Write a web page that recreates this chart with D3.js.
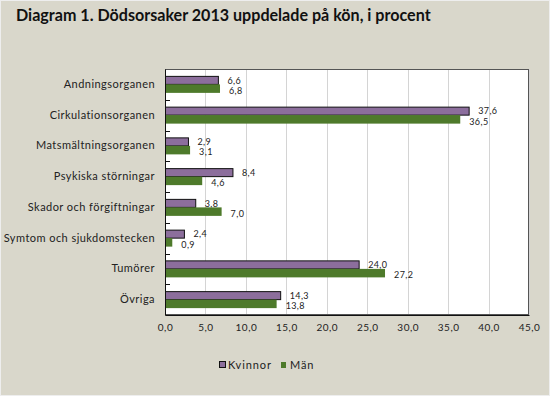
<!DOCTYPE html>
<html><head><meta charset="utf-8">
<script src="https://cdn.jsdelivr.net/npm/d3@7"></script>
<style>
body{margin:0;background:#fff;}
svg{display:block;}
text{font-family:"Lato","DejaVu Sans",sans-serif;}
</style></head>
<body>
<svg id="chart" width="550" height="396"></svg>
<script>
const categories = ["Andningsorganen","Cirkulationsorganen","Matsmältningsorganen","Psykiska störningar","Skador och förgiftningar","Symtom och sjukdomstecken","Tumörer","Övriga"];
const seriesNames = ["Kvinnor","Män"];
const kvinnor = [6.6,37.6,2.9,8.4,3.8,2.4,24.0,14.3];
const man = [6.8,36.5,3.1,4.6,7.0,0.9,27.2,13.8];
const xTicks = [0,5,10,15,20,25,30,35,40,45];
const colors = ["#8c6e9c","#4e7a2b"];

const svg = d3.select("#chart");
const W = 550, H = 396;
svg.append("rect").attr("x",0.5).attr("y",0.5).attr("width",W-1).attr("height",H-1)
  .attr("fill","#d9d7cb").attr("stroke","#eeeeee");

svg.append("text").attr("x",16).attr("y",21).attr("font-size",16.1).attr("font-weight","bold")
  .attr("fill","#111").text("Diagram 1. Dödsorsaker 2013 uppdelade på kön, i procent");

const m = {l:165, r:529, t:69, b:315};
const x = d3.scaleLinear().domain([0,45]).range([m.l,m.r]);
const y = d3.scaleBand().domain(categories).range([m.t,m.b]).padding(0);
const bw = y.bandwidth();
const y1 = d3.scaleBand().domain(seriesNames).range([(bw-17)/2,(bw+17)/2]);

svg.append("rect").attr("x",m.l).attr("y",m.t).attr("width",m.r-m.l).attr("height",m.b-m.t)
  .attr("fill","#fff");

// gridlines
svg.append("g").selectAll("line").data(xTicks.slice(1)).join("line")
  .attr("x1",d=>Math.round(x(d))+0.5).attr("x2",d=>Math.round(x(d))+0.5)
  .attr("y1",m.t).attr("y2",m.b).attr("stroke","#d4d4d4").attr("stroke-width",1);

const data = categories.map((c,i)=>({c, vals:[kvinnor[i],man[i]]}));
const fmt = v => d3.format(".1f")(v).replace(".",",");
const labelDy = [3.4, 5.2];

const g = svg.append("g");
data.forEach(d=>{
  d.vals.forEach((v,j)=>{
    const yy = y(d.c)+y1(seriesNames[j]);
    const r = g.append("rect").attr("x",x(0)).attr("y",yy)
      .attr("width",x(v)-x(0)).attr("height",y1.bandwidth()).attr("fill",colors[j]);
    if(j===0) r.attr("stroke","#111").attr("stroke-width",1)
      .attr("x",x(0)+0.5).attr("y",yy+0.5).attr("width",x(v)-x(0)-0.5).attr("height",y1.bandwidth()-0.5);
    g.append("text").attr("x",x(v)+9).attr("y",yy+y1.bandwidth()/2+labelDy[j])
      .attr("font-size",9).attr("letter-spacing",0.4).attr("fill","#222").text(fmt(v));
  });
});

// plot border
svg.append("rect").attr("x",m.l+0.5).attr("y",m.t+0.5).attr("width",m.r-m.l-1).attr("height",m.b-m.t-1)
  .attr("fill","none").attr("stroke","#555");

// x axis
const xAxis = d3.axisBottom(x).tickValues(xTicks).tickSize(0).tickPadding(9).tickFormat(fmt);
const xg = svg.append("g").attr("transform",`translate(0,${m.b})`).call(xAxis);
xg.select(".domain").attr("stroke","#111");
xg.selectAll("text").attr("font-size",10).attr("letter-spacing",0.5).attr("fill","#222").attr("font-family","Lato, DejaVu Sans, sans-serif");

// y axis
const yAxis = d3.axisLeft(y).tickSize(0).tickPadding(10);
const yg = svg.append("g").attr("transform",`translate(${m.l},0)`).call(yAxis);
yg.select(".domain").attr("stroke","#111");
yg.selectAll("text").attr("font-size",11).attr("letter-spacing",0.45).attr("fill","#222").attr("font-family","Lato, DejaVu Sans, sans-serif");
// inside ticks at category boundaries
svg.append("g").selectAll("line").data(categories.slice(1)).join("line")
  .attr("x1",m.l).attr("x2",m.l+5).attr("y1",d=>Math.round(y(d))+0.5).attr("y2",d=>Math.round(y(d))+0.5)
  .attr("stroke","#111");

// legend
const lg = svg.append("g").attr("transform","translate(219,365)");
const lx = [0,62];
seriesNames.forEach((s,i)=>{
  const gg = lg.append("g").attr("transform",`translate(${lx[i]},0)`);
  if(i===0) gg.append("rect").attr("x",0.5).attr("y",-3.5).attr("width",6).attr("height",6).attr("fill",colors[0]).attr("stroke","#111");
  else gg.append("rect").attr("x",0).attr("y",-3).attr("width",5).attr("height",6).attr("fill",colors[1]);
  gg.append("text").attr("x",9).attr("y",4).attr("font-size",11).attr("letter-spacing",0.9).attr("fill","#222").text(s);
});
</script>
</body></html>
